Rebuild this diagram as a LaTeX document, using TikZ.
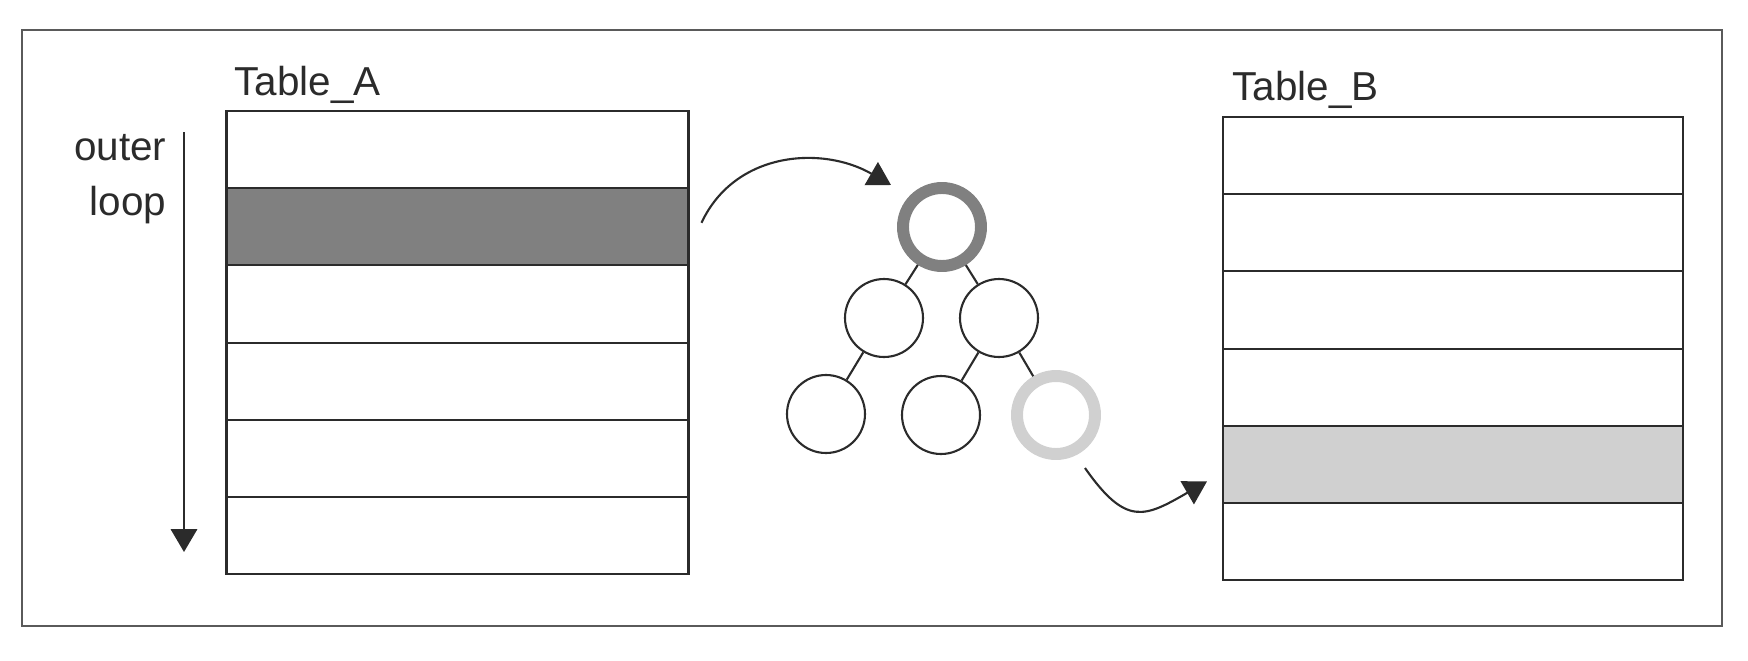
\documentclass[tikz,border=0pt]{standalone}
\usepackage{fontspec}
\setmainfont{Liberation Sans}
\usepackage{xcolor}
\usepackage{tikz}
\usetikzlibrary{arrows.meta,calc}
\definecolor{linedark}{HTML}{2B2B2B}
\definecolor{framegray}{HTML}{5A5A5A}
\definecolor{rowdark}{HTML}{808080}
\definecolor{rowlight}{HTML}{D0D0D0}
\tikzset{every node/.append style={font=\fontsize{11.5}{14}\selectfont}}
\tikzset{
  lbl/.style={inner sep=0pt,text=linedark},
  tablerow/.style={draw=linedark,line width=0.6pt,minimum width=4.62cm,
    minimum height=0.772cm,inner sep=0pt,outer sep=0pt},
  treenode/.style={circle,draw=linedark,line width=0.6pt,minimum size=0.78cm,inner sep=0pt},
  ringnode/.style={treenode,line width=3.4pt},
  flow/.style={-{Triangle[length=6.5pt,width=7.5pt]},linedark,line width=0.6pt}
}

\begin{document}
\begin{tikzpicture}[>=Stealth]
  \useasboundingbox (0,0) rectangle (17.48,6.6);
  \draw[framegray,line width=0.6pt] (0.22,0.34) rectangle (17.22,6.30);
  % Table_A, second row is the current one
  \foreach \r/\c in {1/white,2/rowdark,3/white,4/white,5/white,6/white}
    \node[tablerow,fill=\c] (a\r) at (4.575,{5.49-0.386-(\r-1)*0.772}) {};
  \node[lbl,anchor=base west] (tabA) at (2.34,5.65) {Table\_A};
  \node[lbl,anchor=base east] (outerlbl) at (1.67,5.00) {outer};
  \node[lbl,anchor=base east] (looplbl) at (1.67,4.45) {loop};
  \coordinate (loopstart) at (1.84,5.28);
  \coordinate (loopend) at (1.84,1.08);
  \draw[flow] (loopstart) -- (loopend);
  % Table_B, fifth row receives the match
  \foreach \r/\c in {1/white,2/white,3/white,4/white,5/rowlight,6/white}
    \node[tablerow,fill=\c,minimum width=4.6cm] (b\r) at (14.53,{5.43-0.386-(\r-1)*0.772}) {};
  \node[lbl,anchor=base west] (tabB) at (12.32,5.60) {Table\_B};
  % index tree
  \node[ringnode,draw=rowdark] (root) at (9.42,4.33) {};
  \node[treenode] (l) at (8.84,3.42) {};
  \node[treenode] (r) at (9.99,3.42) {};
  \node[treenode] (ll) at (8.26,2.46) {};
  \node[treenode] (rl) at (9.41,2.45) {};
  \node[ringnode,draw=rowlight] (rr) at (10.56,2.45) {};
  \draw[linedark,line width=0.6pt] (root) -- (l) (root) -- (r)
    (l) -- (ll) (r) -- (rl) (r) -- (rr);
  % lookups
  \coordinate (fromA) at ([shift={(0.13,0.04)}]a2.east);
  \coordinate (toroot) at ([shift={(-0.51,0.42)}]root.center);
  \draw[flow] (fromA) to[out=65,in=150,looseness=1.05] (toroot);
  \coordinate (fromrr) at ([shift={(0.29,-0.53)}]rr.center);
  \coordinate (toB) at ([shift={(-0.16,-0.17)}]b5.west);
  \draw[flow] (fromrr) to[out=-55,in=210,looseness=1.5] (toB);
\end{tikzpicture}
\end{document}
